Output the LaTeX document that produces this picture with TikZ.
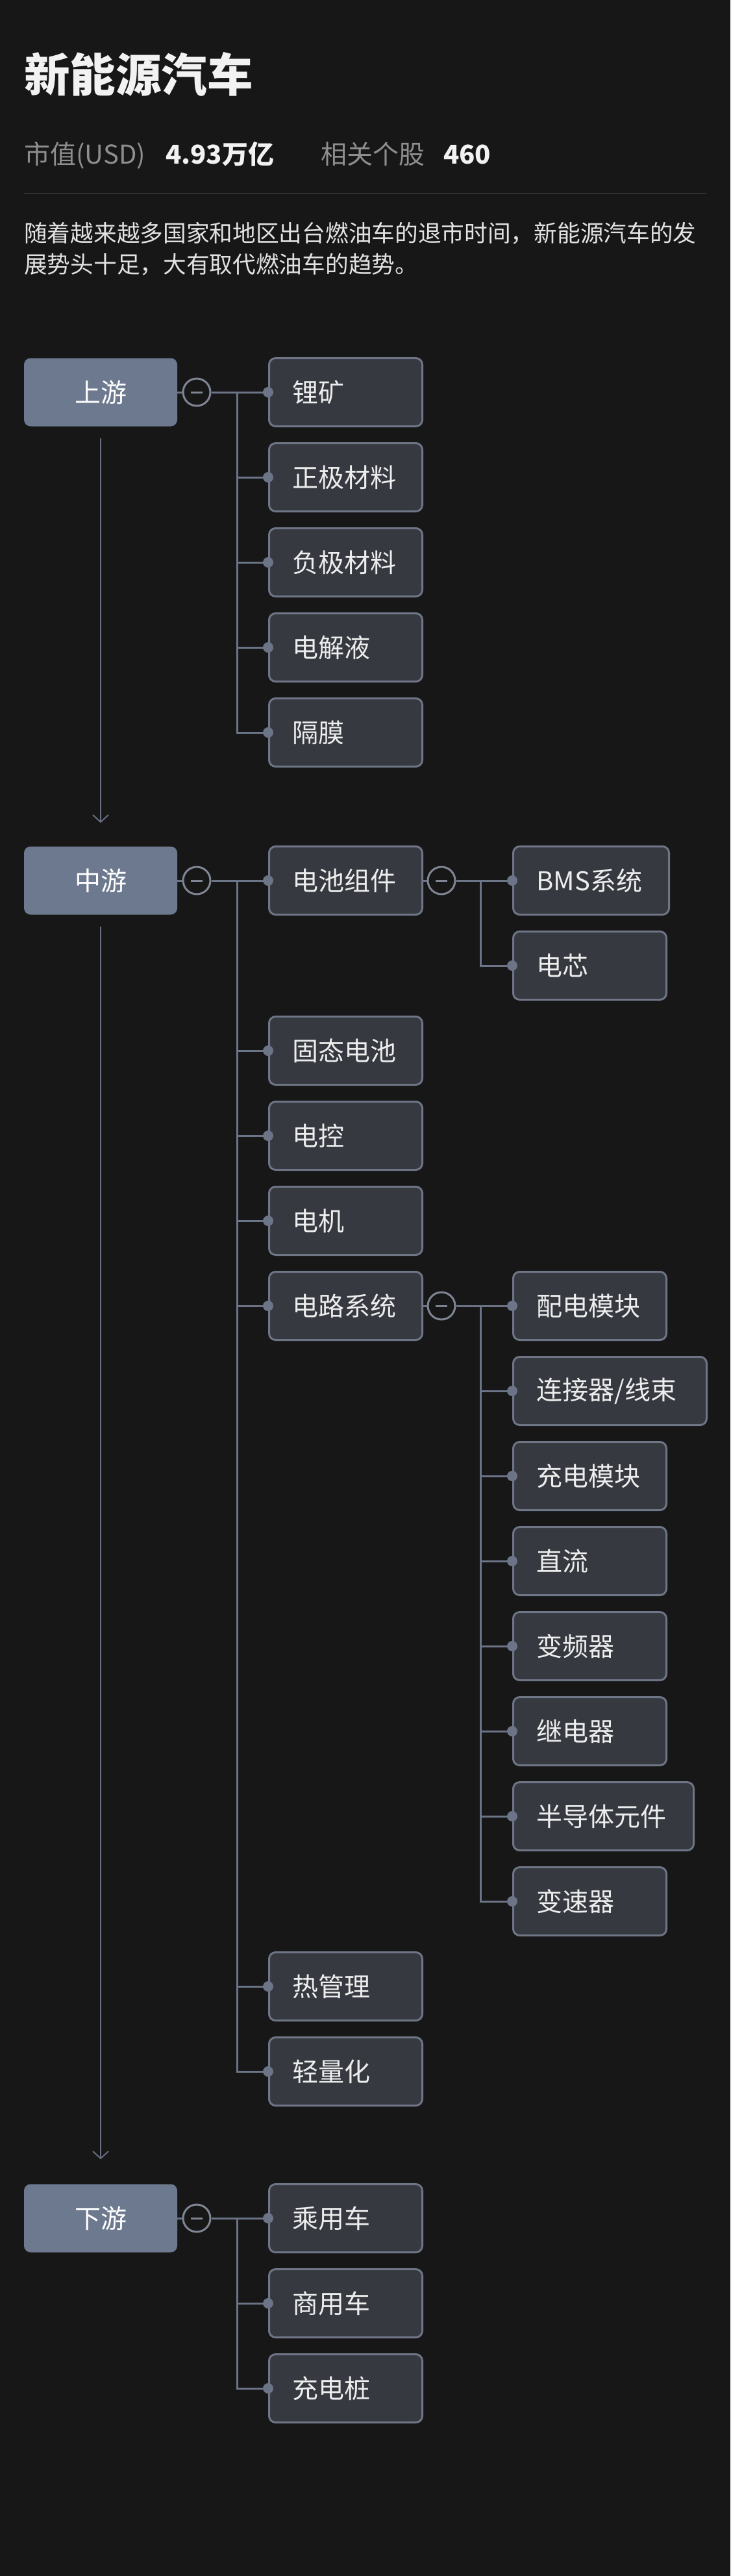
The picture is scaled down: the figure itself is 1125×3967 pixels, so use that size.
\documentclass[tikz,border=0pt]{standalone}
\usepackage{fontspec}
\setmainfont{Noto Sans CJK SC}
\usetikzlibrary{arrows.meta}
\definecolor{bg}{HTML}{171718}
\definecolor{titlec}{HTML}{F2F2F2}
\definecolor{descc}{HTML}{E2E2E2}
\definecolor{grayc}{HTML}{8E8E8E}
\definecolor{sepc}{HTML}{303030}
\definecolor{rootc}{HTML}{6D798E}
\definecolor{leafc}{HTML}{363940}
\definecolor{leafb}{HTML}{6E7585}
\definecolor{leaft}{HTML}{EDEDED}
\definecolor{linec}{HTML}{6C7587}
\definecolor{togc}{HTML}{7F8593}
\definecolor{arrc}{HTML}{666E80}
\begin{document}
\begin{tikzpicture}[x=1pt,y=-1pt,
  root/.style={fill=rootc, rounded corners=10pt, minimum width=236pt, minimum height=105pt,
    inner sep=0pt, text=white, font=\fontsize{40}{48}\selectfont},
  leaf/.style={draw=leafb, fill=leafc, line width=3pt, rounded corners=10pt, minimum height=105pt,
    inner xsep=36pt, inner ysep=0pt, text width=#1, align=left, text=leaft,
    font=\fontsize{40}{48}\selectfont, anchor=west},
  leaf/.default=164pt,
  tog/.style={circle, draw=togc, line width=3pt, fill=bg, minimum size=42pt, inner sep=0pt,
    path picture={\draw[togc, line width=3pt] ([xshift=-9pt]path picture bounding box.center) -- ([xshift=9pt]path picture bounding box.center);}},
  conn/.style={draw=linec, line width=3pt},
  dot/.style={fill=linec},
  arr/.style={draw=arrc, line width=2pt, -{Straight Barb[length=11pt,width=24pt,line width=2pt]}},
  txt/.style={inner sep=0pt, anchor=base west}
]
\fill[bg] (0,0) rectangle (1125,3967);
\useasboundingbox (0,0) rectangle (1125,3967);

% header
\node[txt, text=titlec, font=\fontsize{70.5}{80}\selectfont\bfseries] (title) at (37,141) {新能源汽车};
\node[txt, text=grayc, font=\fontsize{40}{48}\selectfont] (mcl) at (37,252) {市值(USD)};
\node[txt, text=titlec, font=\fontsize{40}{48}\selectfont\bfseries] (mcv) at (255,252) {4.93万亿};
\node[txt, text=grayc, font=\fontsize{40}{48}\selectfont] (stl) at (494,252) {相关个股};
\node[txt, text=titlec, font=\fontsize{40}{48}\selectfont\bfseries] (stv) at (683,252) {460};
\coordinate (sepa) at (37,298);
\coordinate (sepb) at (1088,298);
\draw[sepc, line width=2pt] (sepa) -- (sepb);
\node[txt, text=descc, font=\fontsize{35.7}{48}\selectfont] (d1) at (37,372) {随着越来越多国家和地区出台燃油车的退市时间，新能源汽车的发};
\node[txt, text=descc, font=\fontsize{35.7}{48}\selectfont] (d2) at (37,420) {展势头十足，大有取代燃油车的趋势。};

% roots
\node[root] (up) at (155,604) {上游};
\node[root] (mid) at (155,1356) {中游};
\node[root] (down) at (155,3416) {下游};

% arrows between roots
\draw[arr] ([yshift=-18pt]up.south) -- ([yshift=36pt]mid.north);
\draw[arr] ([yshift=-18pt]mid.south) -- ([yshift=38pt]down.north);

% upstream
\node[leaf] (u1) at (413,604) {锂矿};
\node[leaf] (u2) at (413,735) {正极材料};
\node[leaf] (u3) at (413,866) {负极材料};
\node[leaf] (u4) at (413,997) {电解液};
\node[leaf] (u5) at (413,1128) {隔膜};
\node[tog] (tu) at (303,604) {};
\coordinate (ju) at (365,604);
\draw[conn] (up.east) -- (tu.west);
\draw[conn] (tu.east) -- (ju);
\foreach \n in {u1,u2,u3,u4,u5} { \draw[conn] (ju) |- (\n.west); }
\foreach \n in {u1,u2,u3,u4,u5} { \fill[dot] (\n.west) circle[radius=8pt]; }

% midstream level 1
\node[leaf] (m1) at (413,1356) {电池组件};
\node[leaf] (m2) at (413,1618) {固态电池};
\node[leaf] (m3) at (413,1749) {电控};
\node[leaf] (m4) at (413,1880) {电机};
\node[leaf] (m5) at (413,2011) {电路系统};
\node[leaf] (m6) at (413,3059) {热管理};
\node[leaf] (m7) at (413,3190) {轻量化};
\node[tog] (tm) at (303,1356) {};
\coordinate (jm) at (365,1356);
\draw[conn] (mid.east) -- (tm.west);
\draw[conn] (tm.east) -- (jm);
\foreach \n in {m1,m2,m3,m4,m5,m6,m7} { \draw[conn] (jm) |- (\n.west); }

% battery sub
\node[leaf=168pt] (b1) at (789,1356) {BMS系统};
\node[leaf] (b2) at (789,1487) {电芯};
\node[tog] (tb) at (680,1356) {};
\coordinate (jb) at (740,1356);
\draw[conn] (m1.east) -- (tb.west);
\draw[conn] (tb.east) -- (jb);
\foreach \n in {b1,b2} { \draw[conn] (jb) |- (\n.west); }

% circuit sub
\node[leaf] (s1) at (789,2011) {配电模块};
\node[leaf=226pt] (s2) at (789,2142) {连接器/线束};
\node[leaf] (s3) at (789,2273) {充电模块};
\node[leaf] (s4) at (789,2404) {直流};
\node[leaf] (s5) at (789,2535) {变频器};
\node[leaf] (s6) at (789,2666) {继电器};
\node[leaf=206pt] (s7) at (789,2797) {半导体元件};
\node[leaf] (s8) at (789,2928) {变速器};
\node[tog] (ts) at (680,2011) {};
\coordinate (js) at (740,2011);
\draw[conn] (m5.east) -- (ts.west);
\draw[conn] (ts.east) -- (js);
\foreach \n in {s1,s2,s3,s4,s5,s6,s7,s8} { \draw[conn] (js) |- (\n.west); }

\foreach \n in {m1,m2,m3,m4,m5,m6,m7,b1,b2,s1,s2,s3,s4,s5,s6,s7,s8} { \fill[dot] (\n.west) circle[radius=8pt]; }

% downstream
\node[leaf] (d1n) at (413,3416) {乘用车};
\node[leaf] (d2n) at (413,3547) {商用车};
\node[leaf] (d3n) at (413,3678) {充电桩};
\node[tog] (td) at (303,3416) {};
\coordinate (jd) at (365,3416);
\draw[conn] (down.east) -- (td.west);
\draw[conn] (td.east) -- (jd);
\foreach \n in {d1n,d2n,d3n} { \draw[conn] (jd) |- (\n.west); }
\foreach \n in {d1n,d2n,d3n} { \fill[dot] (\n.west) circle[radius=8pt]; }
\end{tikzpicture}
\end{document}
